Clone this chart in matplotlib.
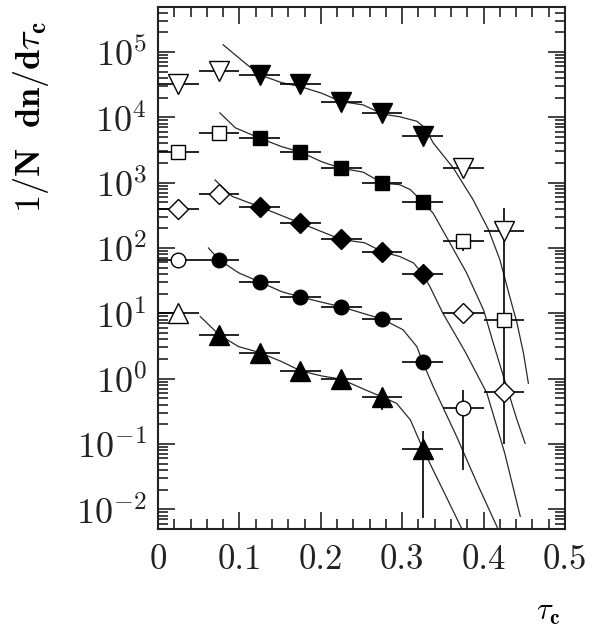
# tau_c distributions for five samples, each offset by a decade, with fit curves

import numpy as np
import matplotlib
matplotlib.use('Agg')
from matplotlib import pyplot as plt
from matplotlib import ticker

# bin centres and half width
tau = [0.025, 0.075, 0.125, 0.175, 0.225, 0.275, 0.325, 0.375, 0.425]
half_bin = 0.025

# data points (top to bottom)
y_tri_down = [3.2e4, 5.1e4, 4.5e4, 3.2e4, 1.74e4, 1.17e4, 5.2e3, 1.7e3, 182]
y_square = [2.9e3, 5.8e3, 4.8e3, 2.95e3, 1.7e3, 980, 510, 129, 7.8]
y_diamond = [400, 680, 430, 240, 135, 87, 40, 10, 0.63]
y_circle = [66, 66, 30, 17.8, 12.6, 8.1, 1.82, 0.35]
y_tri_up = [10, 4.7, 2.5, 1.32, 0.98, 0.52, 0.083]

# which points are drawn open
open_tri_down = [1, 1, 0, 0, 0, 0, 0, 1, 1]
open_square = [1, 1, 0, 0, 0, 0, 0, 1, 1]
open_diamond = [1, 1, 0, 0, 0, 0, 0, 1, 1]
open_circle = [1, 0, 0, 0, 0, 0, 0, 1]
open_tri_up = [1, 0, 0, 0, 0, 0, 0]

# vertical errors (down, up); zero where none is visible
err_tri_down = [(0, 0)] * 8 + [(181.9, 225)]
err_square = [(0, 0)] * 7 + [(40, 30), (0, 0)]
err_diamond = [(0, 0)] * 9
err_circle = [(0, 0)] * 7 + [(0.31, 0.33)]
err_tri_up = [(0, 0)] * 5 + [(0.19, 0.15), (0.0756, 0.075)]

# fit curves
cx_tri_down = [0.080, 0.107, 0.125, 0.152, 0.175, 0.201, 0.225, 0.252, 0.276, 0.297,
               0.318, 0.328, 0.338, 0.363, 0.387, 0.406, 0.420, 0.432, 0.441, 0.449, 0.455]
cy_tri_down = [1.29e5, 6.76e4, 4.47e4, 3.39e4, 2.95e4, 2.34e4, 1.74e4, 1.55e4, 1.12e4, 1.02e4,
               8.7e3, 6.9e3, 4.07e3, 1.66e3, 550, 191, 66, 18.2, 7.1, 2.45, 0.85]
cx_square = [0.076, 0.095, 0.125, 0.152, 0.175, 0.201, 0.225, 0.252, 0.276, 0.297,
             0.310, 0.325, 0.338, 0.359, 0.379, 0.400, 0.412, 0.422, 0.441, 0.451]
cy_square = [1.17e4, 6.9e3, 4.8e3, 3.55e3, 2.95e3, 2.09e3, 1.66e3, 1.45e3, 980, 930,
             780, 510, 340, 117, 41.7, 11.2, 3.47, 1.35, 0.234, 0.102]
cx_diamond = [0.070, 0.091, 0.125, 0.175, 0.201, 0.225, 0.254, 0.276, 0.297, 0.314,
              0.325, 0.334, 0.350, 0.377, 0.404, 0.426, 0.445]
cy_diamond = [1.10e3, 617, 427, 240, 178, 135, 120, 87, 74, 59,
              40, 25.7, 10, 2.63, 0.60, 0.072, 0.0078]
cx_circle = [0.062, 0.075, 0.099, 0.125, 0.152, 0.175, 0.201, 0.225, 0.254, 0.276,
             0.301, 0.318, 0.325, 0.338, 0.367, 0.392, 0.418]
cy_circle = [100, 66, 41.7, 30.2, 21.4, 17.8, 14.8, 12.6, 9.8, 8.1,
             5.6, 3.09, 1.82, 0.76, 0.129, 0.025, 0.0049]
cx_tri_up = [0.052, 0.075, 0.099, 0.125, 0.152, 0.175, 0.201, 0.225, 0.254, 0.276,
             0.293, 0.310, 0.326, 0.346, 0.373]
cy_tri_up = [8.9, 4.7, 3.09, 2.51, 1.82, 1.32, 1.10, 0.98, 0.68, 0.52,
             0.42, 0.234, 0.081, 0.025, 0.0051]

plt.rcParams['font.family'] = 'serif'
plt.rcParams['font.serif'] = ['cmr10', 'DejaVu Serif']
plt.rcParams['mathtext.fontset'] = 'cm'
plt.rcParams['axes.formatter.use_mathtext'] = True

fig = plt.figure(figsize=(5.92, 6.26), dpi=100)
ax = fig.add_axes([0.2669, 0.155, 0.6875, 0.834])

# curves first, points on top
for cx, cy in [(cx_tri_down, cy_tri_down), (cx_square, cy_square), (cx_diamond, cy_diamond),
               (cx_circle, cy_circle), (cx_tri_up, cy_tri_up)]:
    ax.plot(cx, cy, color='#2a2a2a', lw=0.9, zorder=2)

series = [
    (y_tri_down, open_tri_down, err_tri_down, 'v', 14.5),
    (y_square, open_square, err_square, 's', 10),
    (y_diamond, open_diamond, err_diamond, 'D', 10),
    (y_circle, open_circle, err_circle, 'o', 10.5),
    (y_tri_up, open_tri_up, err_tri_up, '^', 14.5),
]
for ys, opens, errs, mk, ms in series:
    for i in range(len(ys)):
        lo, hi = errs[i]
        yerr = None
        if lo > 0 or hi > 0:
            yerr = [[lo], [hi]]
        ax.errorbar([tau[i]], [ys[i]], xerr=half_bin, yerr=yerr, fmt=mk, ms=ms,
                    mfc='white' if opens[i] else 'black', mec='black', mew=1.0,
                    ecolor='black', elinewidth=1.2, capsize=0, zorder=3)

ax.set_yscale('log')
ax.set_xlim(0, 0.5)
ax.set_ylim(5.0e-3, 4.9e5)

ax.xaxis.set_major_locator(ticker.MultipleLocator(0.1))
ax.xaxis.set_minor_locator(ticker.MultipleLocator(0.02))
ax.xaxis.set_major_formatter(ticker.FuncFormatter(lambda v, p: '0' if abs(v) < 1e-9 else '%.1f' % v))
ax.yaxis.set_major_locator(ticker.LogLocator(base=10, numticks=20))
ax.yaxis.set_minor_locator(ticker.LogLocator(base=10, subs=np.arange(2, 10), numticks=20))
ax.yaxis.set_minor_formatter(ticker.NullFormatter())

ax.tick_params(which='both', direction='in', top=True, right=True, width=1.2, colors='#222222')
ax.tick_params(which='major', length=12)
ax.tick_params(which='minor', length=7)
ax.tick_params(axis='y', which='major', labelsize=26, pad=8)
ax.tick_params(axis='x', which='major', labelsize=25, pad=11)
for s in ax.spines.values():
    s.set_linewidth(1.5)
    s.set_color('#222222')

ax.set_ylabel(r'$\mathbf{1/N\ \ dn/d}\tau_{\mathbf{c}}$', fontsize=26)
ax.yaxis.set_label_coords(-0.262, 0.79)
ax.set_xlabel(r'$\tau_{\mathbf{c}}$', fontsize=22)
ax.xaxis.set_label_coords(0.958, -0.135)

plt.savefig('out.png', dpi=100)
